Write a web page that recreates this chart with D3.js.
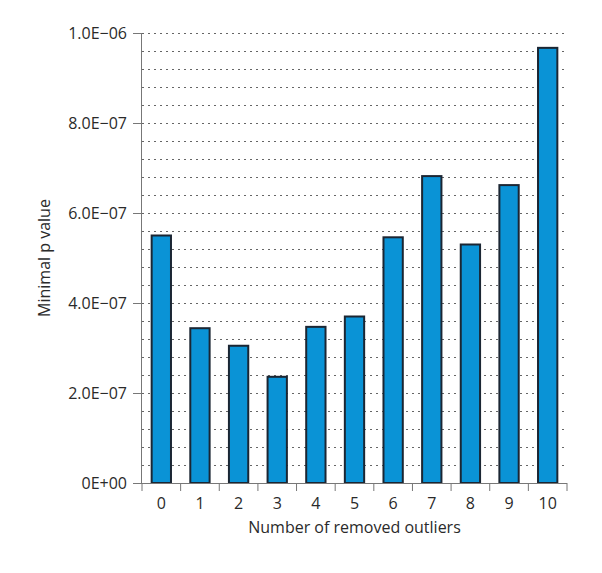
<!DOCTYPE html>
<html><head><meta charset="utf-8">
<script src="https://cdn.jsdelivr.net/npm/d3@7"></script>
<style>body{margin:0;background:#fff}svg{display:block}text{font-family:"Open Sans","Noto Sans",sans-serif;fill:#2a2a2a}</style>
</head><body>
<script>
const categories = ["0","1","2","3","4","5","6","7","8","9","10"];
const values = [5.50e-7, 3.44e-7, 3.05e-7, 2.36e-7, 3.47e-7, 3.70e-7, 5.46e-7, 6.82e-7, 5.30e-7, 6.62e-7, 9.67e-7];
const yTicks = [0, 2e-7, 4e-7, 6e-7, 8e-7, 1e-6];
const yTickLabels = ["0E+00", "2.0E\u221207", "4.0E\u221207", "6.0E\u221207", "8.0E\u221207", "1.0E\u221206"];
const gridStep = 4e-8;

const W = 602, H = 573;
const m = {left:142, right:35, top:33, bottom:90};
const svg = d3.select("body").append("svg").attr("width", W).attr("height", H);
const x = d3.scaleBand().domain(categories).range([m.left, W - m.right]).paddingInner(0.5).paddingOuter(0.25);
const xb = d3.scaleBand().domain(categories).range([m.left, W - m.right]);
const y = d3.scaleLinear().domain([0, 1e-6]).range([H - m.bottom, m.top]);

// gridlines
const grid = d3.range(1, 26).map(i => i * gridStep);
svg.append("g").selectAll("line").data(grid).join("line")
  .attr("x1", m.left).attr("x2", W - m.right)
  .attr("y1", d => Math.round(y(d)) + 0.5).attr("y2", d => Math.round(y(d)) + 0.5)
  .attr("stroke", "#666").attr("stroke-width", 1).attr("stroke-dasharray", "2,4");

// bars
svg.append("g").selectAll("rect").data(values).join("rect")
  .attr("x", (d, i) => x(categories[i]))
  .attr("width", x.bandwidth())
  .attr("y", d => y(d))
  .attr("height", d => y(0) - y(d))
  .attr("fill", "#0a93d6").attr("stroke", "#1b2633").attr("stroke-width", 2);

// y axis
const ya = d3.axisLeft(y).tickValues(yTicks).tickFormat((d, i) => yTickLabels[i]).tickSize(9).tickPadding(6);
const gy = svg.append("g").attr("transform", `translate(${m.left},0)`).call(ya);
gy.select(".domain").attr("stroke", "#777").attr("d", `M-0.5,${m.top}V${H - m.bottom}`);
gy.selectAll(".tick line").attr("stroke", "#777");
gy.selectAll(".tick text").attr("font-size", 16).style("fill", "#2a2a2a").attr("font-family", "'Open Sans', sans-serif");

// x axis
const gx = svg.append("g").attr("transform", `translate(0,${H - m.bottom})`);
gx.append("line").attr("x1", m.left).attr("x2", W - m.right).attr("y1", 0.5).attr("y2", 0.5).attr("stroke", "#777");
const bounds = categories.map(c => xb(c)).concat([xb(categories[categories.length - 1]) + xb.bandwidth()]);
gx.selectAll("line.t").data(bounds).join("line").attr("class", "t")
  .attr("x1", d => d).attr("x2", d => d).attr("y1", 0).attr("y2", 8).attr("stroke", "#777");
gx.selectAll("text").data(categories).join("text")
  .attr("x", d => xb(d) + xb.bandwidth() / 2).attr("y", 26)
  .attr("text-anchor", "middle").attr("font-size", 16).text(d => d);

// axis titles
svg.append("text").attr("x", (m.left + W - m.right) / 2).attr("y", 533)
  .attr("text-anchor", "middle").attr("font-size", 16).text("Number of removed outliers");
svg.append("text").attr("transform", `translate(50,${(m.top + H - m.bottom) / 2}) rotate(-90)`)
  .attr("text-anchor", "middle").attr("font-size", 16).text("Minimal p value");
</script>
</body></html>
